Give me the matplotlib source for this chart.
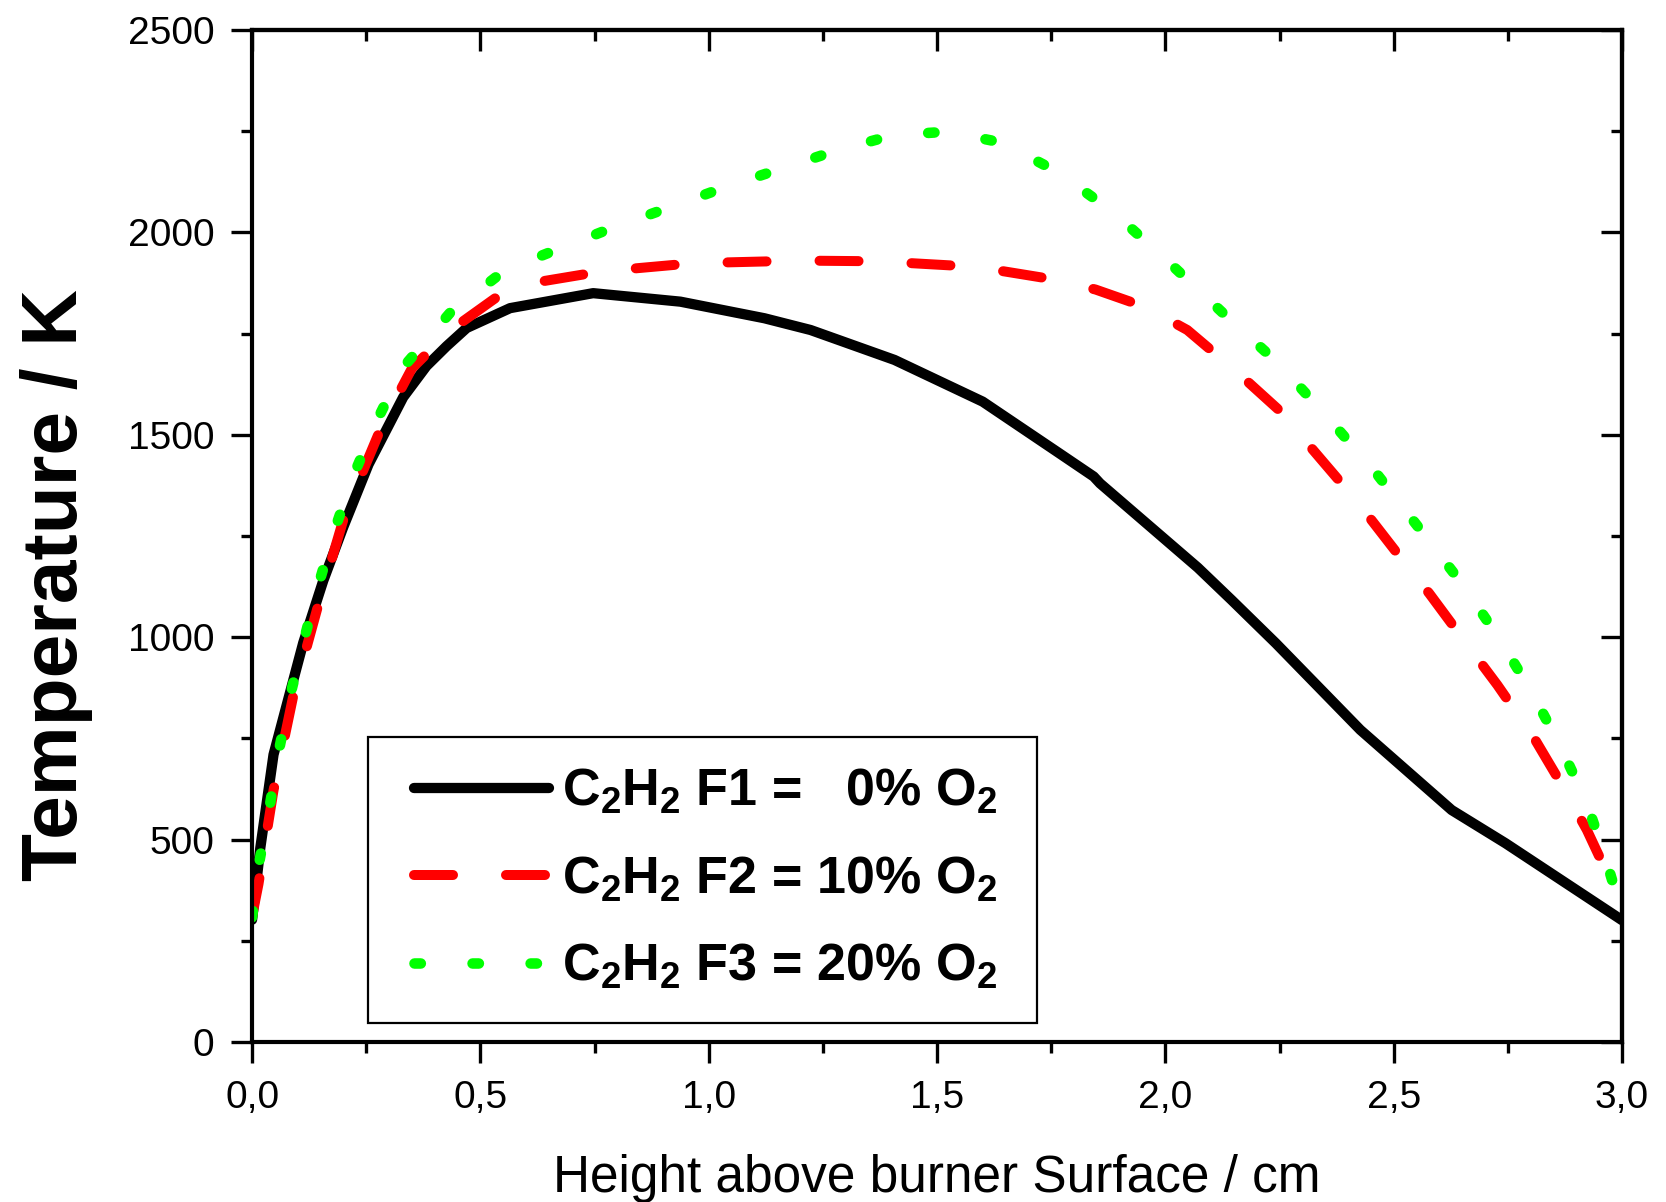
import matplotlib
matplotlib.use('Agg')
import matplotlib.pyplot as plt
from matplotlib.patches import Rectangle

plt.rcParams['font.family'] = ['Liberation Sans', 'DejaVu Sans']
plt.rcParams['mathtext.fontset'] = 'custom'
plt.rcParams['mathtext.rm'] = 'Liberation Sans'
plt.rcParams['mathtext.bf'] = 'Liberation Sans:bold'

# black curve, F1 = 0% O2
x_f1 = [0, 0.018, 0.047, 0.112, 0.156, 0.2, 0.255, 0.331, 0.382, 0.426, 0.47, 0.565,
        0.747, 0.938, 1.122, 1.223, 1.407, 1.6, 1.767, 1.843, 1.857, 2.071, 2.145, 2.242,
        2.427, 2.627, 2.745, 3.0]
t_f1 = [302, 479, 710, 986, 1140, 1273, 1427, 1593, 1670, 1719, 1764, 1813,
        1850, 1829, 1788, 1759, 1685, 1582, 1455, 1397, 1380, 1172, 1092, 985,
        771, 573, 491, 301]

# red curve, F2 = 10% O2
x_f2 = [0, 0.014, 0.047, 0.09, 0.145, 0.204, 0.288, 0.35, 0.434, 0.543, 0.634, 0.762,
        0.837, 0.946, 1.039, 1.147, 1.244, 1.349, 1.445, 1.554, 1.646, 1.755, 1.847,
        1.956, 2.048, 2.16, 2.249, 2.345, 2.42, 2.508, 2.578, 2.664, 2.727, 2.808,
        2.86, 2.923, 2.964]
t_f2 = [310, 390, 622, 854, 1080, 1306, 1532, 1664, 1758, 1846, 1879, 1903,
        1911, 1922, 1926, 1929, 1930, 1929, 1924, 1917, 1904, 1884, 1859,
        1816, 1759, 1652, 1561, 1434, 1335, 1207, 1108, 977, 882, 750,
        651, 524, 425]

# green curve, F3 = 20% O2
x_f3 = [0, 0.016, 0.038, 0.058, 0.083, 0.112, 0.144, 0.18, 0.22, 0.272, 0.331, 0.434,
        0.554, 0.675, 0.795, 0.917, 1.039, 1.16, 1.282, 1.403, 1.523, 1.642, 1.763,
        1.885, 2.006, 2.127, 2.247, 2.357, 2.462, 2.556, 2.649, 2.731, 2.804, 2.867,
        2.923, 2.964, 3.0]
t_f3 = [308, 446, 578, 716, 854, 986, 1124, 1262, 1394, 1532, 1667, 1802,
        1907, 1961, 2014, 2063, 2113, 2158, 2203, 2240, 2249, 2222, 2150,
        2051, 1928, 1800, 1677, 1541, 1405, 1269, 1133, 997, 861, 726,
        590, 454, 318]

labels = [r'$\mathbf{C_2H_2}$ F1 =   0% O$\mathbf{_2}$',
          r'$\mathbf{C_2H_2}$ F2 = 10% O$\mathbf{_2}$',
          r'$\mathbf{C_2H_2}$ F3 = 20% O$\mathbf{_2}$']

x_ticks = [0, 0.5, 1.0, 1.5, 2.0, 2.5, 3.0]
x_tick_labels = ['0,0', '0,5', '1,0', '1,5', '2,0', '2,5', '3,0']
x_minor = [0.25, 0.75, 1.25, 1.75, 2.25, 2.75]
y_ticks = [0, 500, 1000, 1500, 2000, 2500]
y_minor = [250, 750, 1250, 1750, 2250]

fig = plt.figure(figsize=(16.66, 12.02), dpi=100)
ax = fig.add_axes([0.1513, 0.1331, 0.8223, 0.8419])

ax.plot(x_f1, t_f1, color='black', lw=7.4, solid_capstyle='round', solid_joinstyle='round',
        label=labels[0])
ax.plot(x_f2, t_f2, color='#ff0000', lw=7.2, linestyle=(0, (3.9, 5.3)),
        dash_capstyle='round', label=labels[1])
ax.plot(x_f3, t_f3, color='#00ff00', lw=7.6, linestyle=(0, (0.6, 4.9)),
        dash_capstyle='round', label=labels[2])

ax.set_xlim(0, 3.0)
ax.set_ylim(0, 2500)
ax.set_xticks(x_ticks)
ax.set_xticklabels(x_tick_labels)
ax.set_xticks(x_minor, minor=True)
ax.set_yticks(y_ticks)
ax.set_yticks(y_minor, minor=True)

for s in ax.spines.values():
    s.set_linewidth(3)
ax.tick_params(which='major', direction='out', length=15, width=2.4, labelsize=28, pad=12)
ax.tick_params(which='minor', direction='out', length=8, width=2.4)

# inward ticks on top and right
top = ax.secondary_xaxis('top')
top.set_xticks(x_ticks)
top.set_xticks(x_minor, minor=True)
top.tick_params(which='major', direction='in', length=15, width=2.4, labeltop=False)
top.tick_params(which='minor', direction='in', length=8, width=2.4)
top.spines['top'].set_linewidth(3)
right = ax.secondary_yaxis('right')
right.set_yticks(y_ticks)
right.set_yticks(y_minor, minor=True)
right.tick_params(which='major', direction='in', length=15, width=2.4, labelright=False)
right.tick_params(which='minor', direction='in', length=8, width=2.4)
right.spines['right'].set_linewidth(3)

ax.set_xlabel('Height above burner Surface / cm', fontsize=37)
ax.xaxis.set_label_coords(0.5, -0.111)
ax.set_ylabel('Temperature / K', fontsize=56.5, fontweight='bold')
ax.yaxis.set_label_coords(-0.116, 0.4516)

ax.add_patch(Rectangle((0.0847, 0.0188), 0.4883, 0.2826, transform=ax.transAxes,
                       fill=False, edgecolor='black', lw=1.6, zorder=5))
leg = ax.legend(loc='upper left', bbox_to_anchor=(0.118, 0.271), frameon=False,
                borderpad=0, borderaxespad=0, handlelength=2.6, handletextpad=0.25,
                labelspacing=0.74, prop={'size': 37.5, 'weight': 'bold'})

fig.savefig('out.png', dpi=100)
